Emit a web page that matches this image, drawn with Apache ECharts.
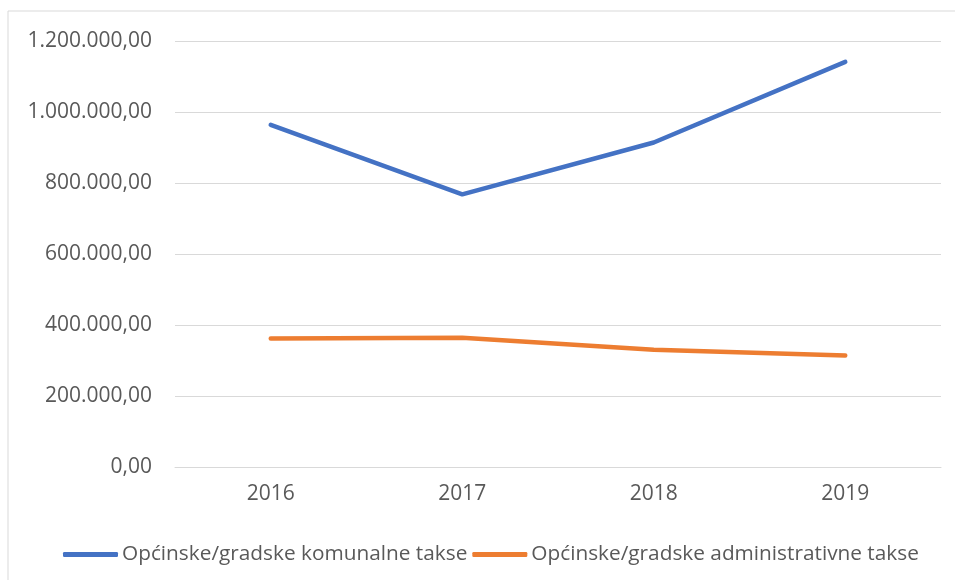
<!DOCTYPE html>
<html>
<head>
    <meta charset="utf-8">
    <title>Takse</title>
    <script src="https://cdn.jsdelivr.net/npm/echarts@6/dist/echarts.min.js"></script>
    <style type="text/css">
        html, body { margin: 0; padding: 0; background: #fff; }
        #main { width: 955px; height: 580px; }
    </style>
</head>
<body>
<div id="main"></div>
<script type="text/javascript">
    // podaci
    var years = ['2016', '2017', '2018', '2019'];
    var komunalne = [964000, 768000, 914000, 1141000];
    var administrativne = [362000, 364000, 330000, 314000];
    var seriesNames = ['Općinske/gradske komunalne takse', 'Općinske/gradske administrativne takse'];

    var textColor = '#595959';
    var gridColor = '#d9d9d9';
    var font = '"Open Sans", "Noto Sans", sans-serif';

    // 1200000 -> 1.200.000,00
    function hrFormat(v) {
        var s = Math.round(v).toString().replace(/\B(?=(\d{3})+(?!\d))/g, '.');
        return s + ',00';
    }

    var chart = echarts.init(document.getElementById('main'));
    chart.setOption({
        animation: false,
        textStyle: {fontFamily: font},
        graphic: [{
            type: 'rect',
            shape: {x: 8, y: 11, width: 2000, height: 2000},
            style: {fill: 'none', stroke: gridColor, lineWidth: 1},
            silent: true
        }],
        grid: {left: 175, right: 14, top: 41, bottom: 113, containLabel: false},
        legend: {
            left: 58,
            top: 539,
            icon: 'roundRect',
            itemWidth: 55,
            itemHeight: 5,
            itemGap: 5,
            textStyle: {color: textColor, fontSize: 20.8, fontFamily: font, padding: [0, 0, 0, -1]},
            data: seriesNames
        },
        xAxis: {
            type: 'category',
            data: years,
            boundaryGap: true,
            axisLine: {lineStyle: {color: gridColor, width: 1}},
            axisTick: {show: false},
            axisLabel: {color: textColor, fontSize: 21, margin: 17}
        },
        yAxis: {
            type: 'value',
            min: 0,
            max: 1200000,
            interval: 200000,
            axisLine: {show: false},
            axisTick: {show: false},
            splitLine: {lineStyle: {color: gridColor, width: 1}},
            axisLabel: {color: textColor, fontSize: 21, margin: 23, formatter: hrFormat}
        },
        series: [
            {
                name: seriesNames[0],
                type: 'line',
                data: komunalne,
                symbol: 'none',
                color: '#4472C4',
                lineStyle: {width: 4.5, cap: 'round', join: 'round'}
            },
            {
                name: seriesNames[1],
                type: 'line',
                data: administrativne,
                symbol: 'none',
                color: '#ED7D31',
                lineStyle: {width: 4.5, cap: 'round', join: 'round'}
            }
        ]
    });
</script>
</body>
</html>
